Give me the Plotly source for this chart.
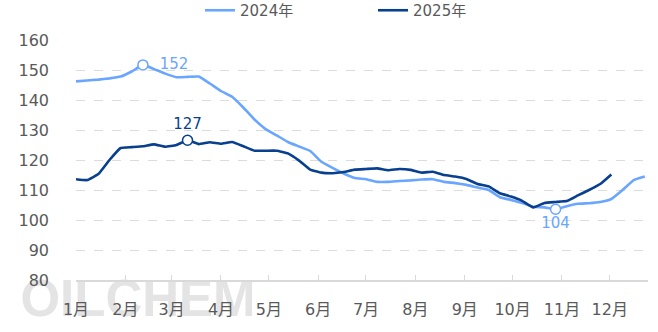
import datetime as dt
import plotly.graph_objects as go

# weekly observations (2025 plotted on the same calendar as 2024)
day_offsets = list(range(0, 358, 7))
vals_2024 = [146.2, 146.5, 146.8, 147.2, 147.8, 149.5, 151.7, 150.3, 148.8, 147.6,
             147.7, 147.8, 145.5, 143.0, 141.1, 137.5, 133.5, 130.3, 128.2, 126.0,
             124.5, 123.0, 119.4, 117.4, 115.5, 114.0, 113.6, 112.7, 112.7, 113.0,
             113.2, 113.5, 113.6, 112.7, 112.3, 111.7, 110.8, 110.0, 107.6, 106.7,
             105.7, 104.4, 104.2, 103.6, 104.6, 105.4, 105.6, 106.0, 107.0, 110.0,
             113.3, 114.5]
vals_2025 = [113.6, 113.3, 115.3, 120.0, 124.0, 124.3, 124.6, 125.2, 124.4, 125.0,
             126.6, 125.3, 125.9, 125.4, 126.0, 124.6, 123.1, 123.1, 123.1, 122.2,
             119.8, 116.8, 115.8, 115.6, 116.0, 116.8, 117.0, 117.2, 116.6, 117.0,
             116.7, 115.8, 116.1, 115.0, 114.5, 113.7, 112.0, 111.2, 108.9, 107.8,
             106.4, 104.2, 105.7, 106.0, 106.3, 108.2, 110.0, 112.0, 115.2]
month_labels = ["1月", "2月", "3月", "4月", "5月", "6月", "7月", "8月", "9月", "10月", "11月", "12月"]
y_ticks = [80, 90, 100, 110, 120, 130, 140, 150, 160]

base = dt.date(2024, 1, 1)
dates_2024 = [base + dt.timedelta(days=d) for d in day_offsets[:len(vals_2024)]]
dates_2025 = [base + dt.timedelta(days=d) for d in day_offsets[:len(vals_2025)]]
month_starts = [dt.date(2024, m, 1) for m in range(1, 13)]

C24 = "#6aa6ff"
C25 = "#083f8e"
FONT = "DejaVu Sans, Noto Sans CJK SC, sans-serif"
GRAY = "#595959"
W, H = 658, 332

fig = go.Figure()

# watermark on a full-page background subplot (drawn beneath the main axes' labels)
fig.add_trace(go.Scatter(x=[138], y=[H - 303], mode="text", text=["<b>OILCHEM</b>"],
                         xaxis="x", yaxis="y",
                         textposition="middle center", showlegend=False, hoverinfo="skip",
                         textfont=dict(family="Liberation Sans, Arial, sans-serif", size=51,
                                       color="#e4e4e4")))

fig.add_trace(go.Scatter(x=dates_2024, y=vals_2024, mode="lines", name="2024年",
                         xaxis="x2", yaxis="y2",
                         line=dict(color=C24, width=2.6, shape="spline", smoothing=0.3)))
fig.add_trace(go.Scatter(x=dates_2025, y=vals_2025, mode="lines", name="2025年",
                         xaxis="x2", yaxis="y2",
                         line=dict(color=C25, width=2.6, shape="spline", smoothing=0.3)))

# highlighted points
i_max24 = vals_2024.index(max(vals_2024))
i_min24 = vals_2024.index(min(vals_2024))
i_max25 = vals_2025.index(max(vals_2025))
pts = [
    (dates_2024[i_max24], vals_2024[i_max24], C24, "middle right", "  "),
    (dates_2024[i_min24], vals_2024[i_min24], C24, "bottom center", ""),
    (dates_2025[i_max25], vals_2025[i_max25], C25, "top center", ""),
]
for x, y, c, pos, pad in pts:
    fig.add_trace(go.Scatter(x=[x], y=[y], mode="markers+text", showlegend=False,
                             xaxis="x2", yaxis="y2",
                             text=[pad + str(round(y))], textposition=pos,
                             textfont=dict(color=c, size=15, family=FONT),
                             marker=dict(size=10, color="white", line=dict(color=c, width=1.5))))

fig.update_layout(
    width=W, height=H,
    margin=dict(l=0, r=0, t=0, b=0, autoexpand=False),
    paper_bgcolor="white", plot_bgcolor="rgba(0,0,0,0)",
    font=dict(family=FONT, size=15, color=GRAY),
    showlegend=True,
    legend=dict(orientation="h", x=200 / W, xanchor="left", y=1 + 6 / H, yanchor="top",
                yref="paper", font=dict(size=15, color=GRAY),
                entrywidth=128, entrywidthmode="pixels", bgcolor="rgba(0,0,0,0)"),
    xaxis=dict(domain=[0, 1], range=[0, W], visible=False, fixedrange=True),
    yaxis=dict(domain=[0, 1], range=[0, H], visible=False, fixedrange=True),
    xaxis2=dict(type="date", domain=[76 / W, 648 / W], anchor="y2",
                range=[dt.datetime(2024, 1, 1), dt.datetime(2024, 12, 25)],
                tickvals=month_starts, ticktext=month_labels, showgrid=False,
                showline=True, linecolor="#d9d9d9", linewidth=1.5,
                ticks="inside", ticklen=5, tickcolor="#d9d9d9", zeroline=False,
                ticklabelstandoff=14, tickfont=dict(size=16)),
    yaxis2=dict(domain=[(H - 280) / H, (H - 40) / H], anchor="x2",
                range=[80, 160], tickvals=y_ticks, showgrid=True, gridcolor="#dcdcdc",
                griddash="dash", gridwidth=1, zeroline=False, showline=False,
                ticklabelstandoff=26, tickfont=dict(size=16)),
)

fig.write_html("out.html")
